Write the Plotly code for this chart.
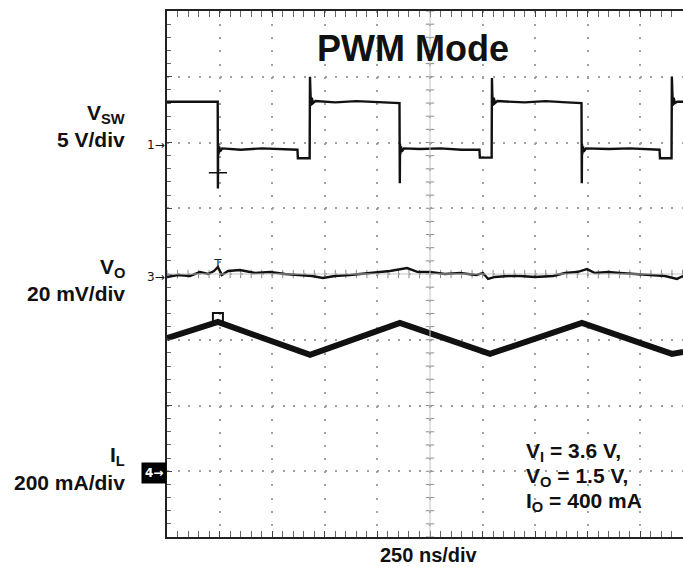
import numpy as np
import plotly.graph_objects as go

# ---------------- data read from the scope screen ----------------
# time base: 250 ns/div ; times in ns from the left edge of the screen
# Channel 1: switch node voltage V_SW (V), 5 V/div
vsw_t = [0, 241, 242, 243, 245, 248, 252, 262, 350, 450, 550, 620, 622, 678, 679.5, 681, 684, 688, 694, 705,
         800, 900, 1000, 1105, 1106.5, 1107.5, 1109, 1112, 1116, 1126, 1200, 1300, 1400, 1485, 1487, 1543,
         1544.5, 1546, 1549, 1553, 1559, 1570, 1700, 1800, 1900, 1970, 1971.5, 1972.5, 1974, 1977, 1981,
         1991, 2100, 2200, 2300, 2341, 2343, 2398, 2399.5, 2401, 2404, 2408, 2414, 2425, 2453]
vsw_v = [3.1, 3.1, -3.5, -0.1, -0.9, -0.3, -0.7, -0.45, -0.55, -0.45, -0.5, -0.55, -1.2, -1.2, 5.0, 3.8, 2.8,
         3.4, 3.0, 3.15, 3.05, 3.15, 3.05, 3.0, -3.1, -0.1, -0.9, -0.3, -0.7, -0.45, -0.5, -0.45, -0.55, -0.55,
         -1.15, -1.15, 4.9, 3.7, 2.8, 3.4, 3.0, 3.15, 3.05, 3.15, 3.05, 3.0, -3.1, -0.1, -0.9, -0.3, -0.7,
         -0.45, -0.5, -0.45, -0.55, -0.55, -1.2, -1.2, 5.0, 3.7, 2.8, 3.4, 3.0, 3.1, 3.1]

# Channel 3: output voltage ripple V_O (mV, AC), 20 mV/div
vo_t = [0, 52, 109, 157, 195, 223, 242, 261, 290, 347, 418, 490, 561, 632, 689, 741, 798, 870, 917, 989,
        1060, 1141, 1193, 1250, 1321, 1393, 1469, 1502, 1526, 1559, 1621, 1678, 1749, 1835, 1892, 1949,
        1996, 2034, 2096, 2153, 2224, 2310, 2367, 2424, 2453]
vo_mv = [-0.9, -0.3, -0.6, 0.6, 0.0, 0.9, 2.1, -0.3, 0.9, 1.2, 0.3, 0.6, 0.0, -0.3, -0.6, -1.2, -0.6, -0.3,
         0.0, 0.6, 0.9, 1.8, 0.6, 0.6, 0.0, 0.3, -0.3, 0.3, -1.5, -0.9, -0.6, -0.6, -0.9, -0.6, 0.3, 0.6,
         1.5, 0.3, 0.6, 0.3, 0.0, -0.3, -0.6, -1.5, -0.6]

# Channel 4: inductor current I_L (mA), 200 mA/div
il_t = [0, 242, 680, 1107, 1535, 1972, 2400, 2453]
il_ma = [405, 454, 354, 451, 357, 451, 357, 363]

# cursor / trigger markers
trig_t = [242]
trig_vsw = [-2.3]
trig_vo = [2.6]
trig_il = [466]

# channel settings (per division) and ground positions in divisions from screen centre
ns_per_div = 250
vsw_per_div, vsw_gnd = 5, 2
vo_per_div, vo_gnd = 20, 0
il_per_div, il_gnd = 200, -3

# ---------------- layout geometry ----------------
W, H = 683, 567
L, T, B = 167, 11, 30
plot_w, plot_h = W - L, H - T - B
px_per_div_x = 52.6
x_max = plot_w / px_per_div_x * ns_per_div


def axrange(per_div, gnd):
    return [(-4 - gnd) * per_div, (4 - gnd) * per_div]


def px(xp):
    return (xp - L) / plot_w


def py(yp):
    return (H - B - yp) / plot_h


ink = "#111111"
fig = go.Figure()

# graticule centre cross with fine ticks
cx = 5 * ns_per_div
fig.add_shape(type="line", xref="x", yref="y", x0=cx, x1=cx, y0=-4, y1=4, line=dict(color="#c4c4c4", width=1))
fig.add_shape(type="line", xref="x", yref="y", x0=0, x1=x_max, y0=0, y1=0, line=dict(color="#c4c4c4", width=1))
yt = np.arange(-4, 4.01, 0.2)
fig.add_trace(go.Scatter(x=[cx] * len(yt), y=yt, mode="markers", hoverinfo="skip",
                         marker=dict(symbol="line-ew", size=6, color="#8a8a8a", line=dict(color="#8a8a8a", width=1))))
xt = np.arange(0, x_max, 50)
fig.add_trace(go.Scatter(x=xt, y=[0] * len(xt), mode="markers", hoverinfo="skip",
                         marker=dict(symbol="line-ns", size=6, color="#8a8a8a", line=dict(color="#8a8a8a", width=1))))

# traces
fig.add_trace(go.Scatter(x=vsw_t, y=vsw_v, yaxis="y2", mode="lines", line=dict(color=ink, width=2.4)))
fig.add_trace(go.Scatter(x=vo_t, y=vo_mv, yaxis="y3", mode="lines", line=dict(color=ink, width=2.4)))
fig.add_trace(go.Scatter(x=il_t, y=il_ma, yaxis="y4", mode="lines", line=dict(color=ink, width=6)))

# cursor markers
fig.add_trace(go.Scatter(x=trig_t, y=trig_vsw, yaxis="y2", mode="markers",
                         marker=dict(symbol="cross-thin", size=13, color=ink, line=dict(color=ink, width=1.5))))
fig.add_trace(go.Scatter(x=trig_t, y=trig_vo, yaxis="y3", mode="text", text=["T"],
                         textfont=dict(size=12, color="#222222", family="DejaVu Sans")))
fig.add_trace(go.Scatter(x=trig_t, y=trig_il, yaxis="y4", mode="markers",
                         marker=dict(symbol="square-open", size=10, color=ink, line=dict(color=ink, width=2))))

font = "Liberation Sans, Arial, sans-serif"
ann = []


def add(text, xp, yp, xanchor="right", size=21, fam=font, **kw):
    ann.append(dict(text=text, x=px(xp), y=py(yp), xref="paper", yref="paper", showarrow=False,
                    xanchor=xanchor, yanchor="middle", font=dict(size=size, color=ink, family=fam), **kw))


add("<b>V<sub>SW</sub></b>", 127, 114)
add("<b>5 V/div</b>", 127, 139)
add("<b>V<sub>O</sub></b>", 127, 268)
add("<b>20 mV/div</b>", 127, 293)
add("<b>I<sub>L</sub></b>", 127, 456)
add("<b>200 mA/div</b>", 127, 482)
add("<b>V<sub>I</sub> = 3.6 V,</b>", 524, 452, xanchor="left")
add("<b>V<sub>O</sub> = 1.5 V,</b>", 524, 477, xanchor="left")
add("<b>I<sub>O</sub> = 400 mA</b>", 524, 502, xanchor="left")
add("<b>250 ns/div</b>", 429, 555, xanchor="center", size=20)
add("<b>PWM Mode</b>", 413, 49, xanchor="center", size=36)
add("1→", 167, 145, size=12, fam="DejaVu Sans")
add("3→", 167, 277, size=12, fam="DejaVu Sans")
ann.append(dict(text="<b>4→</b>", x=px(167), y=py(473), xref="paper", yref="paper", showarrow=False,
                xanchor="right", yanchor="middle", bgcolor="#000000", borderpad=3,
                font=dict(size=12, color="#ffffff", family="DejaVu Sans")))

fig.update_layout(
    width=W, height=H, margin=dict(l=L, r=0, t=T, b=B),
    paper_bgcolor="white", plot_bgcolor="white", showlegend=False,
    annotations=ann,
    xaxis=dict(range=[0, x_max], tick0=0, dtick=ns_per_div, showticklabels=False, zeroline=False,
               showgrid=True, gridcolor="#a0a0a0", gridwidth=1.5, griddash="2px,11.15px",
               showline=True, linecolor="#222", linewidth=2, mirror="allticks",
               ticks="inside", ticklen=6, tickcolor="#444", tickwidth=1,
               minor=dict(dtick=ns_per_div / 5, tick0=0, ticks="inside", ticklen=4, tickcolor="#666", showgrid=False)),
    yaxis=dict(range=[-4, 4], tick0=0, dtick=1, showticklabels=False, zeroline=False,
               showgrid=True, gridcolor="#a0a0a0", gridwidth=1.5, griddash="2px,8.5px",
               showline=True, linecolor="#222", linewidth=2, mirror=False,
               ticks="inside", ticklen=5, tickcolor="#444", tickwidth=1,
               minor=dict(dtick=0.2, tick0=0, ticks="inside", ticklen=4, tickcolor="#666", showgrid=False)),
    yaxis2=dict(range=axrange(vsw_per_div, vsw_gnd), overlaying="y", visible=False),
    yaxis3=dict(range=axrange(vo_per_div, vo_gnd), overlaying="y", visible=False),
    yaxis4=dict(range=axrange(il_per_div, il_gnd), overlaying="y", visible=False),
)

fig.write_html("out.html", config={"displayModeBar": False},
               post_script="document.body.style.margin='0';document.body.style.overflow='hidden';")
